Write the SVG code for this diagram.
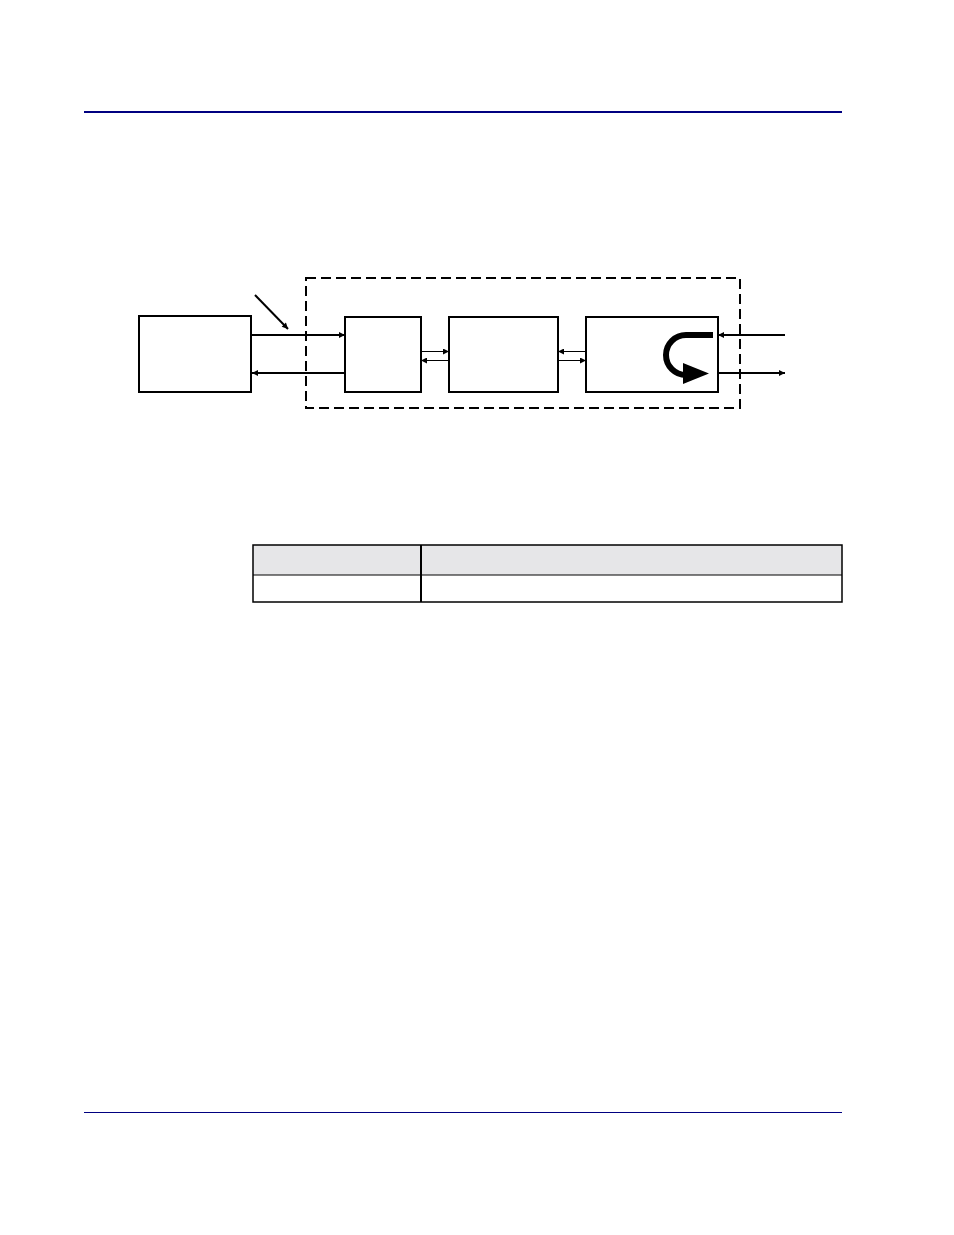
<svg xmlns="http://www.w3.org/2000/svg" width="954" height="1235" viewBox="0 0 954 1235">
<defs>
<style>
.box{fill:#fff;stroke:#000;stroke-width:2}
.conn{stroke:#000;stroke-width:2;fill:none}
.thin{stroke:#000;stroke-width:1;fill:none}
.rule{stroke:#000080}
</style>
<marker id="ahBig" viewBox="0 0 10 10" refX="10" refY="5" markerWidth="9" markerHeight="6" orient="auto" markerUnits="userSpaceOnUse"><path d="M0,0 L10,5 L0,10 z" fill="#000"/></marker>
</defs>
<rect width="954" height="1235" fill="#fff"/>
<line class="rule" x1="84" y1="112" x2="842" y2="112" stroke-width="2"/>
<line class="rule" x1="84" y1="1112.5" x2="842" y2="1112.5" stroke-width="1"/>

<g id="boundary"><rect x="306" y="278" width="434" height="130" fill="none" stroke="#000" stroke-width="2" stroke-dasharray="10,5"/></g>
<g id="node1"><rect class="box" x="139" y="316" width="112" height="76"/></g>
<g id="node2"><rect class="box" x="345" y="317" width="76" height="75"/></g>
<g id="node3"><rect class="box" x="449" y="317" width="109" height="75"/></g>
<g id="node4"><rect class="box" x="586" y="317" width="132" height="75"/>
<path d="M713,335 L686,335 A20,20 0 0 0 686,375 L690,375" fill="none" stroke="#000" stroke-width="6"/>
<path d="M683,363 L709,373.5 L683,384 z" fill="#000"/>
</g>

<g id="connectors">
<line class="conn" x1="252" y1="335" x2="345" y2="335" marker-end="url(#ahBig)"/>
<line class="conn" x1="345" y1="373" x2="252" y2="373" marker-end="url(#ahBig)"/>
<line class="conn" x1="255" y1="295" x2="288" y2="329" marker-end="url(#ahBig)"/>
<line class="thin" x1="421" y1="351.5" x2="449" y2="351.5" marker-end="url(#ahBig)"/>
<line class="thin" x1="449" y1="360.5" x2="421" y2="360.5" marker-end="url(#ahBig)"/>
<line class="thin" x1="586" y1="351.5" x2="558" y2="351.5" marker-end="url(#ahBig)"/>
<line class="thin" x1="558" y1="360.5" x2="586" y2="360.5" marker-end="url(#ahBig)"/>
<line class="conn" x1="785" y1="335" x2="718" y2="335" marker-end="url(#ahBig)"/>
<line class="conn" x1="718" y1="373" x2="785" y2="373" marker-end="url(#ahBig)"/>
</g>

<g id="table">
<rect x="253" y="545" width="589" height="30" fill="#e6e6e8"/>
<rect x="253" y="545" width="589" height="57" fill="none" stroke="#000" stroke-width="1.5"/>
<line x1="253" y1="575" x2="842" y2="575" stroke="#000" stroke-width="1"/>
<line x1="421" y1="545" x2="421" y2="602" stroke="#000" stroke-width="2"/>
</g>
</svg>
